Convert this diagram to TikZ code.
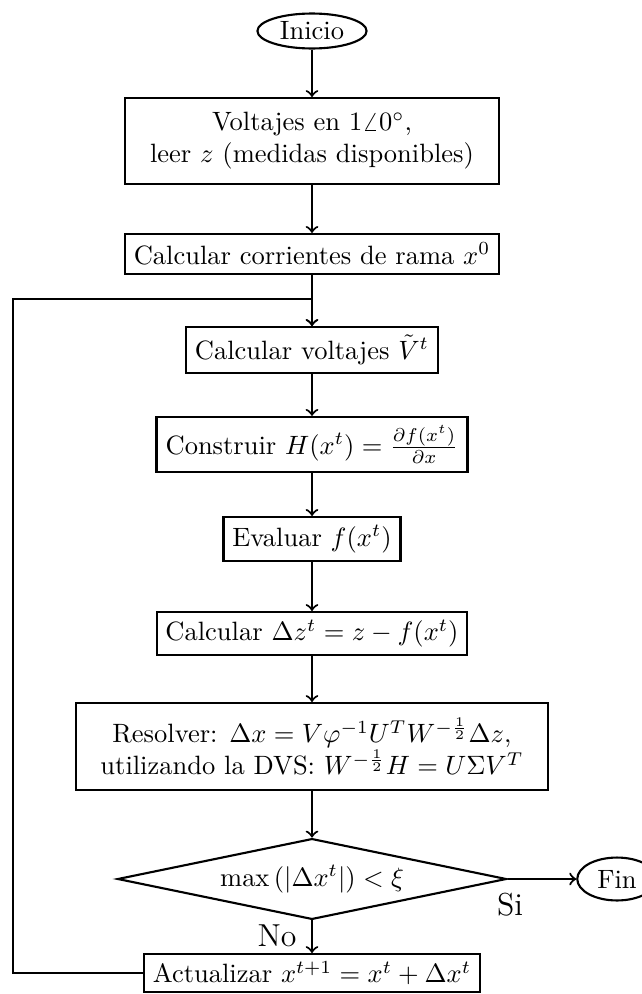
\documentclass[tikz,border=0pt]{standalone}
\usepackage{amsmath}
\usetikzlibrary{shapes.geometric}
\begin{document}
\begin{tikzpicture}[x=0.3774pt,y=-0.3774pt,
  every node/.style={thick},
  box/.style={draw,rectangle,align=center,inner sep=2pt},
  term/.style={draw,ellipse,inner sep=0pt},
  dec/.style={draw,diamond,inner sep=0pt,aspect=4.7},
  conn/.style={->,thick},
  lbl/.style={inner sep=0pt,font=\large}]
\useasboundingbox (0,0) rectangle (642,994);
\node[term,minimum width=41.2pt,minimum height=13.2pt] (ini) at (312,31) {Inicio};
\node[box,minimum width=141.1pt,minimum height=32.4pt] (volt) at (312,141) {Voltajes en $1\angle 0^\circ$,\\ leer $z$ (medidas disponibles)};
\node[box,minimum width=141.1pt,minimum height=15.1pt] (cc) at (312,254) {Calcular corrientes de rama $x^0$};
\node[box,minimum width=95.1pt,minimum height=17.3pt] (cv) at (312,350) {Calcular voltajes $\tilde{V}^t$};
\node[box,minimum width=117.4pt,minimum height=20.8pt] (hx) at (312,444.5) {Construir $H(x^t) = \frac{\partial f(x^t)}{\partial x}$};
\node[box,minimum width=66.8pt,minimum height=16.6pt] (ev) at (312,539) {Evaluar $f(x^t)$};
\node[box,minimum width=117pt,minimum height=16.2pt] (dz) at (312,633.5) {Calcular $\Delta z^t = z - f(x^t)$};
\node[box,minimum width=178.1pt,minimum height=32.8pt] (res) at (312,746.5) {Resolver: $\Delta x = V\varphi^{-1}U^TW^{-\frac{1}{2}}\Delta z$,\\ utilizando la DVS: $W^{-\frac{1}{2}}H = U\Sigma V^T$};
\node[dec,minimum width=146.8pt,minimum height=30.5pt] (dia) at (312,879) {$\max\left(|\Delta x^t|\right) < \xi$};
\node[term,minimum width=30pt,minimum height=16.2pt] (fin) at (617,879) {Fin};
\node[box,minimum width=126.8pt,minimum height=14.3pt] (act) at (312,973) {Actualizar $x^{t+1} = x^t + \Delta x^t$};
\node[lbl] (si) at (510,905) {Si};
\node[lbl] (no) at (277,936) {No};
\coordinate (lc) at (13,299);
\coordinate (lp) at (312,299);
\draw[conn] (ini) -- (volt);
\draw[conn] (volt) -- (cc);
\draw[conn] (cc) -- (cv);
\draw[conn] (cv) -- (hx);
\draw[conn] (hx) -- (ev);
\draw[conn] (ev) -- (dz);
\draw[conn] (dz) -- (res);
\draw[conn] (res) -- (dia);
\draw[conn] (dia.east) -- (fin);
\draw[conn] (dia.south) -- (act);
\draw[conn] (act.west) -| (lc) -- (lp) -- (cv.north);
\end{tikzpicture}
\end{document}
